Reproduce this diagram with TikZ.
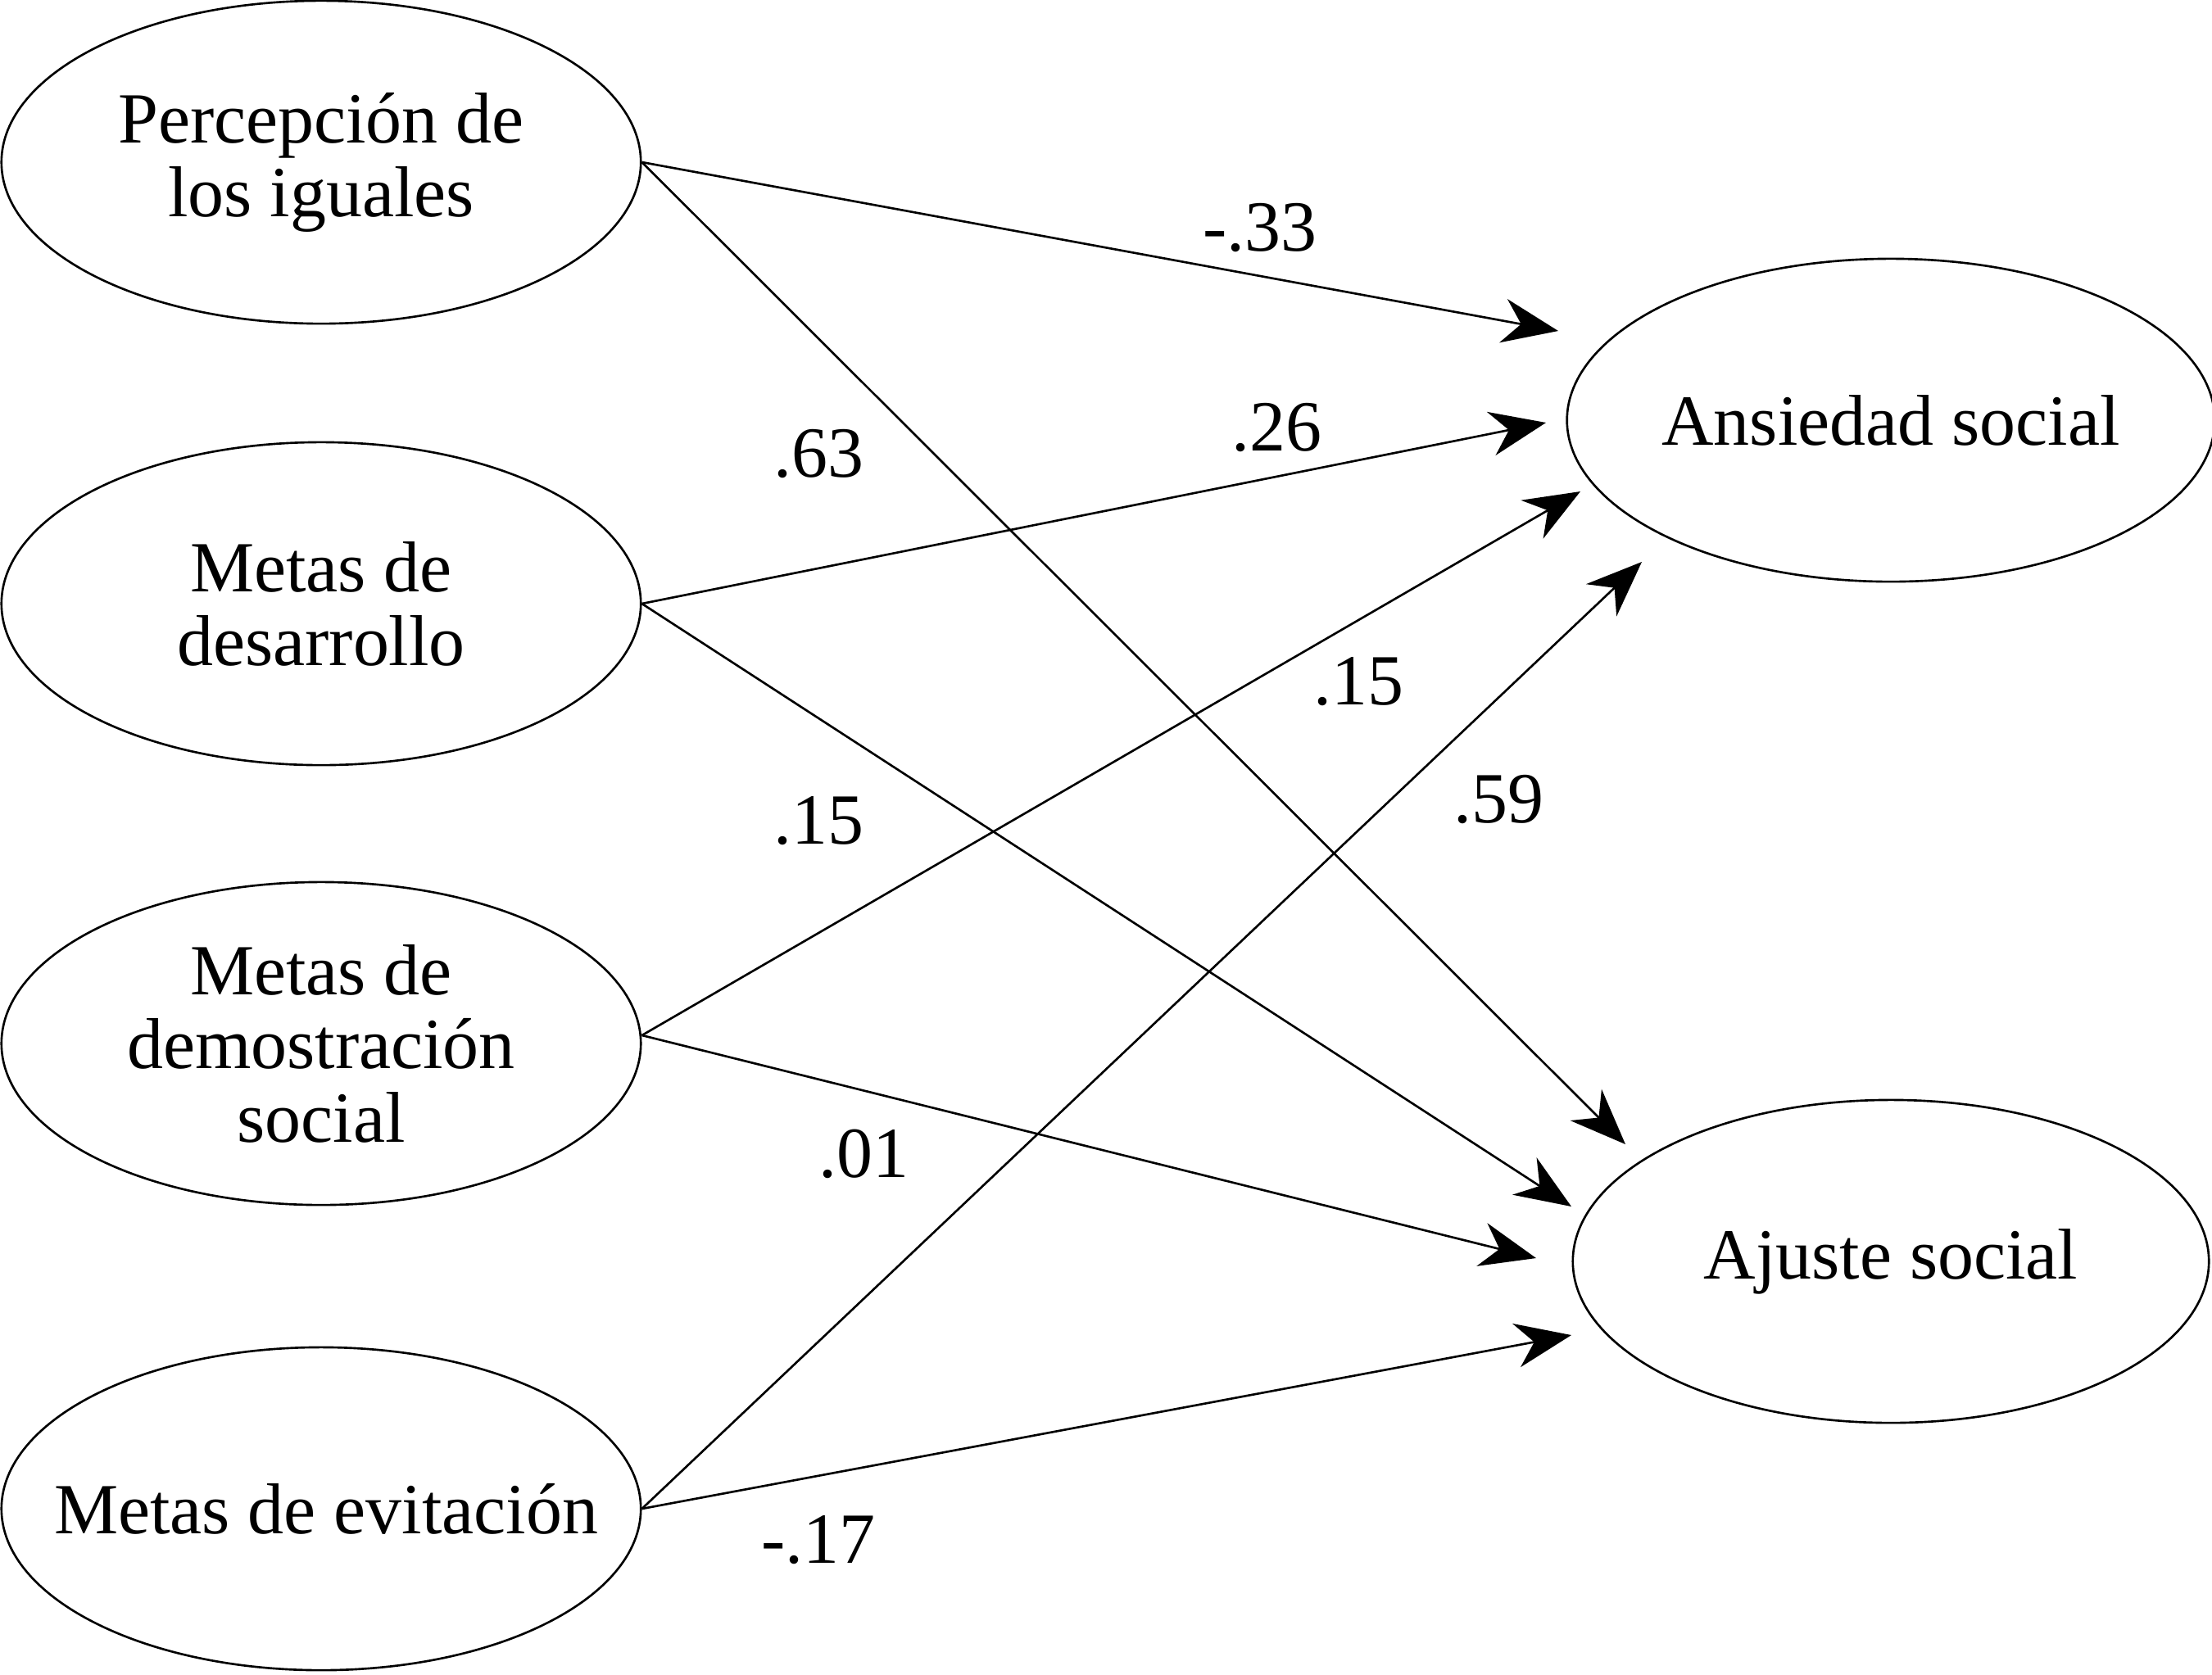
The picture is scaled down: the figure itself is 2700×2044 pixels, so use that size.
\documentclass[tikz,border=0pt]{standalone}
\usepackage{fontspec}
\setmainfont{Liberation Serif}
\usetikzlibrary{shapes.geometric,arrows.meta}
\tikzset{
  var/.style={draw, ellipse, line width=0.75pt, inner sep=0pt,
    minimum width=7.8cm, minimum height=3.94cm, align=center,
    font=\fontsize{25}{25.6}\selectfont},
  dep/.style={var, minimum width=7.76cm},
  path/.style={line width=0.75pt, -{Stealth[length=6.8mm, width=5.4mm, inset=2.2mm]}},
  coef/.style={font=\fontsize{25}{28}\selectfont, inner sep=0pt}
}
\begin{document}
\begin{tikzpicture}[x=0.01cm, y=-0.01cm]
\useasboundingbox (0,0) rectangle (2700,2044);
% predictors
\node[var] (e1) at (392,198) {Percepción de\\los iguales};
\node[var] (e2) at (392,737) {Metas de\\desarrollo};
\node[var] (e3) at (392,1274) {Metas de\\demostración\\social};
\node[var] (e4) at (392,1842) {\makebox[0pt]{\hspace{0.12cm}Metas de evitación}};
% outcomes
\node[dep] (r1) at (2308,513) {Ansiedad social};
\node[dep] (r2) at (2308,1540) {Ajuste social};
% arrow tips
\coordinate (t11) at (1902,404);
\coordinate (t12) at (1984,1397);
\coordinate (t21) at (1887,516);
\coordinate (t22) at (1918,1473);
\coordinate (t31) at (1929,600);
\coordinate (t32) at (1875,1536);
\coordinate (t41) at (2004,686);
\coordinate (t42) at (1918,1630);
% paths
\draw[path] (e1.east) -- (t11);
\draw[path] (e1.east) -- (t12);
\draw[path] (e2.east) -- (t21);
\draw[path] (e2.east) -- (t22);
\draw[path] ([yshift=0.1cm]e3.east) -- (t31);
\draw[path] ([yshift=0.1cm]e3.east) -- (t32);
\draw[path] (e4.east) -- (t41);
\draw[path] (e4.east) -- (t42);
% coefficients
\node[coef] (c11) at (1538,278) {-.33};
\node[coef] (c12) at (999,554) {.63};
\node[coef] (c21) at (1558,522) {.26};
\node[coef] (c22) at (999,1002) {.15};
\node[coef] (c31) at (1658,832) {.15};
\node[coef] (c32) at (1054,1409) {.01};
\node[coef] (c41) at (1829,976) {.59};
\node[coef] (c42) at (999,1880) {-.17};
\end{tikzpicture}
\end{document}
